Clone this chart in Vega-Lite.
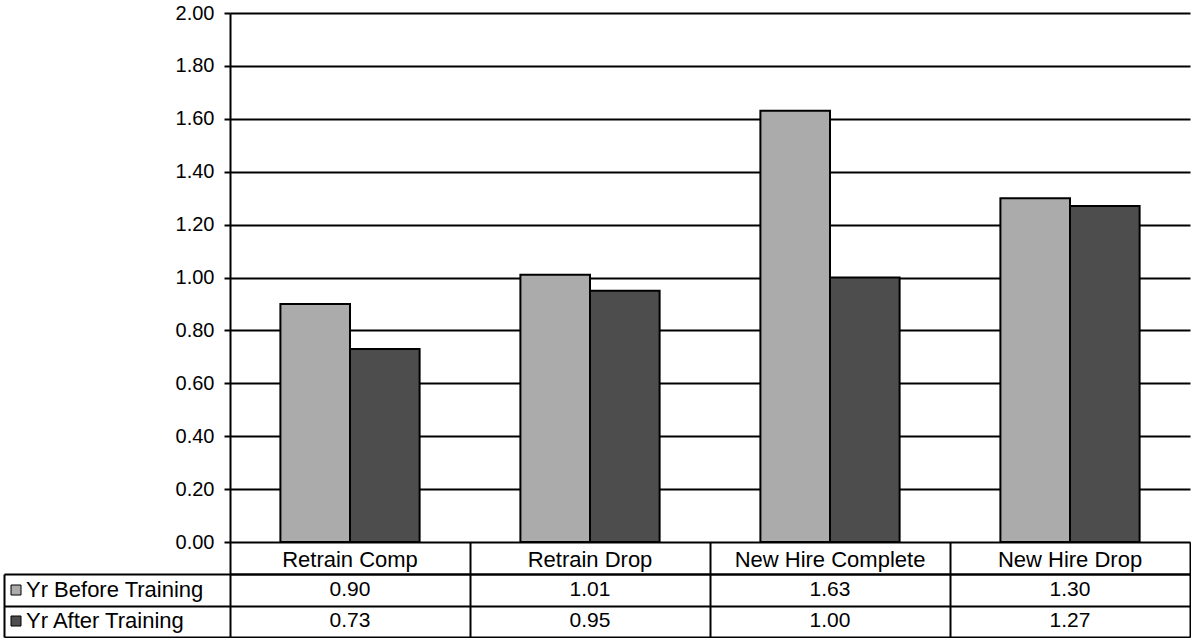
{
  "$schema": "https://vega.github.io/schema/vega-lite/v6.json",
  "background": "white",
  "padding": {"left": 3, "top": 3, "right": 0, "bottom": 0},
  "data": {
    "values": [
      {"category": "Retrain Comp", "series": "Yr Before Training", "value": 0.90},
      {"category": "Retrain Comp", "series": "Yr After Training", "value": 0.73},
      {"category": "Retrain Drop", "series": "Yr Before Training", "value": 1.01},
      {"category": "Retrain Drop", "series": "Yr After Training", "value": 0.95},
      {"category": "New Hire Complete", "series": "Yr Before Training", "value": 1.63},
      {"category": "New Hire Complete", "series": "Yr After Training", "value": 1.00},
      {"category": "New Hire Drop", "series": "Yr Before Training", "value": 1.30},
      {"category": "New Hire Drop", "series": "Yr After Training", "value": 1.27}
    ]
  },
  "config": {
    "font": "Liberation Sans",
    "view": {"stroke": null},
    "axis": {
      "labelFont": "Liberation Sans",
      "labelColor": "black",
      "domainColor": "black",
      "tickColor": "black",
      "gridColor": "black",
      "gridOpacity": 1
    }
  },
  "bounds": "flush",
  "spacing": 32,
  "resolve": {"scale": {"x": "independent", "y": "independent"}},
  "vconcat": [
    {
      "width": 960,
      "height": 529,
      "mark": {"type": "bar", "stroke": "black", "strokeWidth": 2},
      "encoding": {
        "x": {
          "field": "category",
          "type": "nominal",
          "sort": null,
          "title": null,
          "scale": {"paddingInner": 0.42, "paddingOuter": 0.21},
          "axis": {
            "orient": "bottom",
            "domain": false,
            "ticks": false,
            "labelAngle": 0,
            "labelFontSize": 22,
            "labelLimit": 0,
            "labelPadding": 7
          }
        },
        "xOffset": {
          "field": "series",
          "type": "nominal",
          "sort": ["Yr Before Training", "Yr After Training"],
          "scale": {"paddingInner": 0, "paddingOuter": 0}
        },
        "y": {
          "field": "value",
          "type": "quantitative",
          "title": null,
          "scale": {"domain": [0, 2], "nice": false},
          "axis": {
            "values": [0, 0.2, 0.4, 0.6, 0.8, 1, 1.2, 1.4, 1.6, 1.8, 2],
            "format": ".2f",
            "grid": true,
            "gridWidth": 2,
            "domainWidth": 2,
            "tickSize": 6,
            "tickWidth": 2,
            "labelFontSize": 20,
            "labelPadding": 10,
            "minExtent": 227
          }
        },
        "fill": {
          "field": "series",
          "type": "nominal",
          "sort": ["Yr Before Training", "Yr After Training"],
          "scale": {"domain": ["Yr Before Training", "Yr After Training"], "range": ["#ababab", "#4d4d4d"]},
          "legend": {
            "orient": "none",
            "legendX": -225,
            "legendY": 566,
            "title": null,
            "padding": 0,
            "symbolType": "square",
            "symbolSize": 100,
            "symbolStrokeColor": "black",
            "symbolStrokeWidth": 1,
            "labelFont": "Liberation Sans",
            "labelFontSize": 22,
            "labelColor": "black",
            "labelOffset": -1,
            "labelLimit": 300,
            "rowPadding": 9
          }
        }
      }
    },
    {
      "width": 960,
      "height": 63,
      "mark": {"type": "text", "fontSize": 21, "font": "Liberation Sans", "color": "black"},
      "encoding": {
        "x": {
          "field": "category",
          "type": "nominal",
          "sort": null,
          "title": null,
          "scale": {"type": "band", "padding": 0},
          "axis": {
            "orient": "top",
            "labels": false,
            "domain": true,
            "domainWidth": 2,
            "ticks": true,
            "tickSize": 32,
            "tickWidth": 2,
            "tickBand": "extent",
            "grid": true,
            "gridWidth": 2
          }
        },
        "y": {
          "field": "series",
          "type": "nominal",
          "sort": ["Yr Before Training", "Yr After Training"],
          "title": null,
          "scale": {"type": "band", "padding": 0},
          "axis": {
            "orient": "left",
            "offset": 226,
            "labels": false,
            "domain": true,
            "domainWidth": 2,
            "ticks": true,
            "tickSize": -226,
            "tickWidth": 2,
            "tickBand": "extent",
            "grid": true,
            "gridWidth": 2
          }
        },
        "text": {"field": "value", "type": "quantitative", "format": ".2f"}
      }
    }
  ]
}
